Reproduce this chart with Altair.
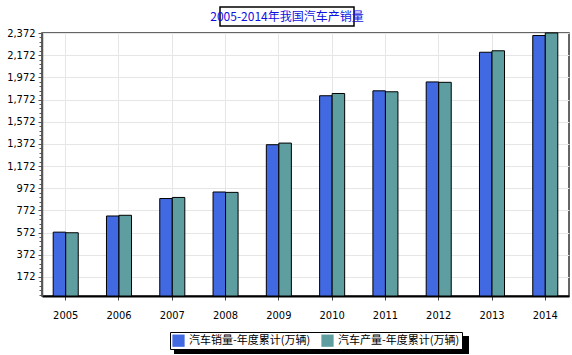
import altair as alt
import pandas as pd

# ---- data ----
years = ["2005", "2006", "2007", "2008", "2009", "2010", "2011", "2012", "2013", "2014"]
sales = [575.82, 721.60, 879.15, 938.05, 1364.48, 1806.19, 1850.51, 1930.64, 2198.41, 2349.19]
production = [570.49, 727.97, 888.89, 934.51, 1379.10, 1826.47, 1841.89, 1927.18, 2211.68, 2372.29]
series_names = ["汽车销量-年度累计(万辆)", "汽车产量-年度累计(万辆)"]
series_colors = ["#4169E1", "#5F9EA0"]
title_text = "2005-2014年我国汽车产销量"
y_max = 2372
y_ticks = list(range(12, 2373, 40))  # major labels at 172, 372, ... 2372

rows = []
for i, yr in enumerate(years):
    rows.append({"year": yr, "series": series_names[0], "value": sales[i]})
    rows.append({"year": yr, "series": series_names[1], "value": production[i]})
df = pd.DataFrame(rows)

CJK = "Noto Sans CJK SC"
NUM = "Liberation Sans Narrow, DejaVu Sans Condensed, sans-serif"
major_test = "(datum.value - 172) % 200 == 0"

bars = alt.Chart(df).mark_bar(stroke="black", strokeWidth=1).encode(
    x=alt.X("year:N", title=None,
            scale=alt.Scale(paddingInner=0.53, paddingOuter=0.21),
            axis=alt.Axis(labelAngle=0, labelFont=NUM, labelFontSize=11, labelColor="black",
                          tickSize=4, tickColor="#444", labelPadding=9,
                          grid=True, gridColor="#e6e6e6",
                          domainColor="black", domainWidth=2)),
    xOffset=alt.XOffset("series:N", sort=series_names),
    y=alt.Y("value:Q", title=None,
            scale=alt.Scale(domain=[0, y_max], nice=False, zero=True),
            axis=alt.Axis(values=y_ticks,
                          labelExpr=f"({major_test}) ? format(datum.value, ',') : ''",
                          labelOverlap=False, labelFont=NUM, labelFontSize=11,
                          labelColor="black", labelPadding=3,
                          tickColor="#555",
                          tickSize={"condition": {"test": major_test, "value": 4}, "value": 3},
                          grid=True, gridColor="#e6e6e6",
                          gridOpacity={"condition": {"test": major_test, "value": 1}, "value": 0},
                          domainColor="#555", domainWidth=1.5)),
    color=alt.Color("series:N", sort=series_names,
                    scale=alt.Scale(domain=series_names, range=series_colors),
                    legend=alt.Legend(title=None)),
)

one = alt.Data(values=[{}])

title_box = alt.Chart(one).mark_rect(fill="white", stroke="black", strokeWidth=1.5).encode(
    x=alt.value(178), x2=alt.value(312), y=alt.value(-26), y2=alt.value(-7))
title_txt = alt.Chart(one).mark_text(font=CJK, fontSize=12, color="#1010e0",
                                     align="center", baseline="middle", dy=1).encode(
    x=alt.value(245), y=alt.value(-17), text=alt.value(title_text))

legend_shadow = alt.Chart(one).mark_rect(fill="black").encode(
    x=alt.value(132), x2=alt.value(427), y=alt.value(303), y2=alt.value(321))

chart = alt.layer(legend_shadow, title_box, title_txt, bars).properties(
    width=527, height=263,
    padding={"left": 42, "top": 33, "right": 3, "bottom": 59},
    autosize=alt.AutoSizeParams(type="none"),
).configure_view(
    stroke="#333", strokeWidth=1.5
).configure_legend(
    orient="none", legendX=128, legendY=299, direction="horizontal",
    strokeColor="black", fillColor="white", padding=2,
    symbolType="square", symbolSize=150, symbolStrokeWidth=0,
    labelFont=CJK, labelFontSize=11, labelColor="black", columnPadding=10,
)

chart.save("out.html", embed_options={"renderer": "svg", "actions": False})
